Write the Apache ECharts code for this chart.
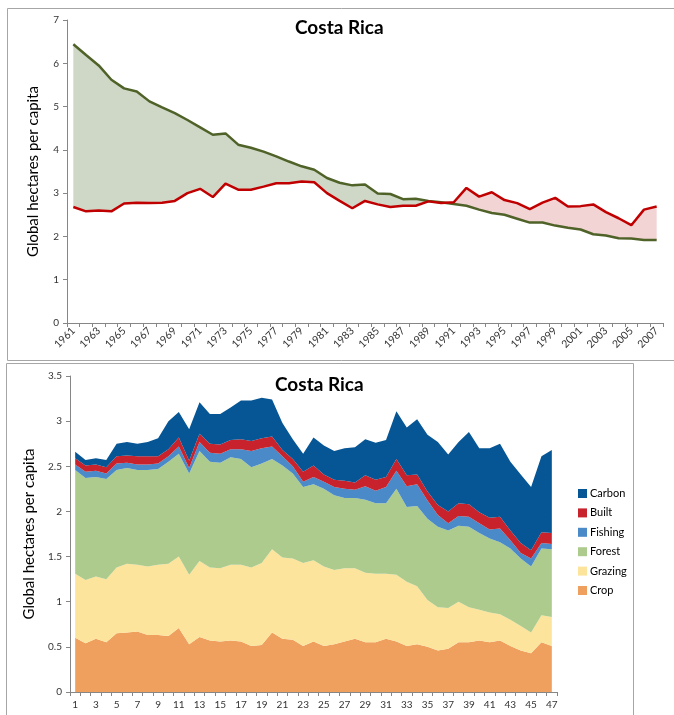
<!DOCTYPE html>
<html>
<head>
<meta charset="utf-8">
<script src="https://cdn.jsdelivr.net/npm/echarts@6/dist/echarts.min.js"></script>
<style>
  html, body { margin: 0; padding: 0; background: #fff; }
  #main { width: 674px; height: 715px; }
</style>
</head>
<body>
<div id="main"></div>
<script>
// top chart: footprint vs biocapacity, 1961-2007
const years = ['1961','1962','1963','1964','1965','1966','1967','1968','1969','1970',
  '1971','1972','1973','1974','1975','1976','1977','1978','1979','1980',
  '1981','1982','1983','1984','1985','1986','1987','1988','1989','1990',
  '1991','1992','1993','1994','1995','1996','1997','1998','1999','2000',
  '2001','2002','2003','2004','2005','2006','2007'];
const biocapacity = [6.44,6.19,5.95,5.62,5.42,5.35,5.12,4.98,4.85,4.69,
  4.52,4.35,4.38,4.12,4.05,3.96,3.85,3.73,3.62,3.54,
  3.35,3.24,3.18,3.20,2.99,2.98,2.86,2.87,2.82,2.79,
  2.75,2.71,2.62,2.54,2.50,2.41,2.32,2.32,2.25,2.20,
  2.16,2.05,2.02,1.96,1.95,1.92,1.92];
const footprint = [2.68,2.58,2.60,2.58,2.76,2.78,2.77,2.78,2.82,3.00,
  3.10,2.91,3.22,3.08,3.08,3.15,3.23,3.23,3.27,3.25,
  3.00,2.82,2.65,2.82,2.74,2.68,2.71,2.71,2.81,2.77,
  2.79,3.12,2.92,3.02,2.84,2.77,2.63,2.78,2.89,2.69,
  2.70,2.74,2.56,2.42,2.26,2.62,2.69];

// bottom chart: footprint by component
const periods = ['1','2','3','4','5','6','7','8','9','10','11','12','13','14','15','16',
  '17','18','19','20','21','22','23','24','25','26','27','28','29','30','31','32',
  '33','34','35','36','37','38','39','40','41','42','43','44','45','46','47'];
const crop = [0.60,0.54,0.59,0.55,0.65,0.66,0.67,0.63,0.63,0.62,
  0.71,0.53,0.61,0.57,0.56,0.57,0.56,0.51,0.52,0.66,
  0.59,0.58,0.51,0.56,0.51,0.53,0.56,0.59,0.55,0.55,
  0.59,0.56,0.51,0.53,0.50,0.46,0.48,0.55,0.55,0.57,
  0.55,0.57,0.51,0.46,0.43,0.55,0.51];
const grazing = [0.71,0.70,0.69,0.70,0.73,0.76,0.74,0.76,0.78,0.80,
  0.79,0.77,0.84,0.81,0.81,0.84,0.85,0.87,0.91,0.92,
  0.90,0.90,0.92,0.90,0.88,0.82,0.81,0.78,0.77,0.76,
  0.72,0.74,0.71,0.64,0.52,0.48,0.45,0.45,0.39,0.34,
  0.33,0.29,0.29,0.27,0.23,0.30,0.32];
const forest = [1.15,1.13,1.10,1.11,1.08,1.06,1.05,1.07,1.06,1.13,
  1.14,1.12,1.22,1.17,1.17,1.19,1.17,1.11,1.10,1.00,
  1.02,0.94,0.84,0.84,0.86,0.83,0.78,0.78,0.81,0.78,
  0.78,0.95,0.83,0.89,0.90,0.89,0.86,0.84,0.89,0.85,
  0.82,0.80,0.79,0.75,0.73,0.74,0.75];
const fishing = [0.06,0.07,0.07,0.06,0.07,0.06,0.06,0.06,0.06,0.06,
  0.08,0.06,0.10,0.10,0.10,0.09,0.11,0.18,0.17,0.14,
  0.10,0.08,0.06,0.08,0.08,0.09,0.10,0.09,0.15,0.14,
  0.18,0.20,0.23,0.24,0.20,0.13,0.08,0.11,0.11,0.11,
  0.10,0.15,0.09,0.06,0.09,0.06,0.06];
const built = [0.07,0.07,0.07,0.07,0.08,0.08,0.09,0.09,0.08,0.08,
  0.10,0.08,0.09,0.10,0.10,0.10,0.11,0.11,0.11,0.11,
  0.07,0.08,0.11,0.13,0.08,0.08,0.09,0.08,0.12,0.12,
  0.11,0.13,0.12,0.11,0.10,0.11,0.13,0.14,0.14,0.12,
  0.13,0.13,0.11,0.11,0.09,0.12,0.12];
const carbon = [0.07,0.06,0.07,0.08,0.14,0.15,0.14,0.16,0.20,0.31,
  0.28,0.35,0.35,0.33,0.34,0.36,0.43,0.45,0.45,0.41,
  0.30,0.22,0.20,0.31,0.32,0.32,0.36,0.39,0.40,0.41,
  0.41,0.53,0.53,0.61,0.63,0.70,0.63,0.68,0.80,0.71,
  0.77,0.81,0.76,0.76,0.70,0.84,0.92];

const font = 'Lato';
const axisGrey = '#868686';

// band between the two lines: invisible base + reserve / deficit on top
const bandBase = years.map((y, i) => Math.min(biocapacity[i], footprint[i]));
const reserve = years.map((y, i) => Math.max(biocapacity[i] - footprint[i], 0));
const deficit = years.map((y, i) => Math.max(footprint[i] - biocapacity[i], 0));

const layer = (name, data, color) => ({
  name: name,
  type: 'line',
  xAxisIndex: 1,
  yAxisIndex: 1,
  stack: 'fp',
  data: data,
  symbol: 'none',
  lineStyle: { width: 0 },
  areaStyle: { color: color, opacity: 1 },
  itemStyle: { color: color }
});

const yName = {
  name: 'Global hectares per capita',
  nameLocation: 'middle',
  nameRotate: 90,
  nameTextStyle: { fontFamily: font, fontSize: 15, color: '#000' }
};

const axisCommon = {
  axisLine: { show: true, lineStyle: { color: axisGrey } },
  axisTick: { show: true, lineStyle: { color: axisGrey }, length: 4 },
  splitLine: { show: false },
  axisLabel: { fontFamily: font, fontSize: 10, color: '#333' }
};

const chart = echarts.init(document.getElementById('main'));
chart.setOption({
  animation: false,
  backgroundColor: '#fff',
  title: [
    { text: 'Costa Rica', left: 295, top: 18, padding: 0,
      textStyle: { fontFamily: font, fontSize: 19, fontWeight: 'bold', color: '#000' } },
    { text: 'Costa Rica', left: 275, top: 375, padding: 0,
      textStyle: { fontFamily: font, fontSize: 19, fontWeight: 'bold', color: '#000' } }
  ],
  graphic: [
    { type: 'rect', shape: { x: 7.5, y: 8.5, width: 700, height: 352 },
      style: { fill: 'none', stroke: '#a6a6a6', lineWidth: 1 }, silent: true },
    { type: 'rect', shape: { x: 6.5, y: 363.5, width: 627, height: 400 },
      style: { fill: 'none', stroke: '#a6a6a6', lineWidth: 1 }, silent: true }
  ],
  legend: {
    data: ['Carbon', 'Built', 'Fishing', 'Forest', 'Grazing', 'Crop'],
    orient: 'vertical',
    left: 573,
    top: 483,
    icon: 'rect',
    itemWidth: 9,
    itemHeight: 9,
    itemGap: 8.4,
    textStyle: { fontFamily: font, fontSize: 11, color: '#000', padding: [0, 0, 0, -2] }
  },
  grid: [
    { left: 67, top: 20, right: 11, bottom: 392 },
    { left: 70, top: 376, right: 117, bottom: 23 }
  ],
  xAxis: [
    Object.assign({}, axisCommon, {
      type: 'category', gridIndex: 0, data: years, boundaryGap: true,
      axisTick: { show: true, interval: 0, lineStyle: { color: axisGrey }, length: 4 },
      axisLabel: { fontFamily: font, fontSize: 10.5, color: '#333', interval: 1, rotate: 45, margin: 6 }
    }),
    Object.assign({}, axisCommon, {
      type: 'category', gridIndex: 1, data: periods, boundaryGap: true,
      axisTick: { show: true, interval: 0, lineStyle: { color: axisGrey }, length: 4 },
      axisLabel: { fontFamily: font, fontSize: 10, color: '#333', interval: 1, margin: 8 }
    })
  ],
  yAxis: [
    Object.assign({}, axisCommon, yName, {
      type: 'value', gridIndex: 0, min: 0, max: 7, interval: 1, nameGap: 26
    }),
    Object.assign({}, axisCommon, yName, {
      type: 'value', gridIndex: 1, min: 0, max: 3.5, interval: 0.5, nameGap: 31
    })
  ],
  series: [
    { name: 'base', type: 'line', stack: 'band', data: bandBase, symbol: 'none',
      lineStyle: { width: 0 }, silent: true },
    { name: 'reserve', type: 'line', stack: 'band', data: reserve, symbol: 'none',
      lineStyle: { width: 0 }, areaStyle: { color: '#CFD7C7', opacity: 1 }, silent: true },
    { name: 'deficit', type: 'line', stack: 'band', data: deficit, symbol: 'none',
      lineStyle: { width: 0 }, areaStyle: { color: '#F2D4D4', opacity: 1 }, silent: true },
    { name: 'Biocapacity', type: 'line', data: biocapacity, symbol: 'none', z: 3,
      lineStyle: { color: '#4F6228', width: 2.5 } },
    { name: 'Footprint', type: 'line', data: footprint, symbol: 'none', z: 4,
      lineStyle: { color: '#C00000', width: 2.5 } },
    layer('Crop', crop, '#F0A05E'),
    layer('Grazing', grazing, '#FCE49C'),
    layer('Forest', forest, '#AECB8E'),
    layer('Fishing', fishing, '#4A8AC8'),
    layer('Built', built, '#C8232C'),
    layer('Carbon', carbon, '#065594')
  ]
});
</script>
</body>
</html>
